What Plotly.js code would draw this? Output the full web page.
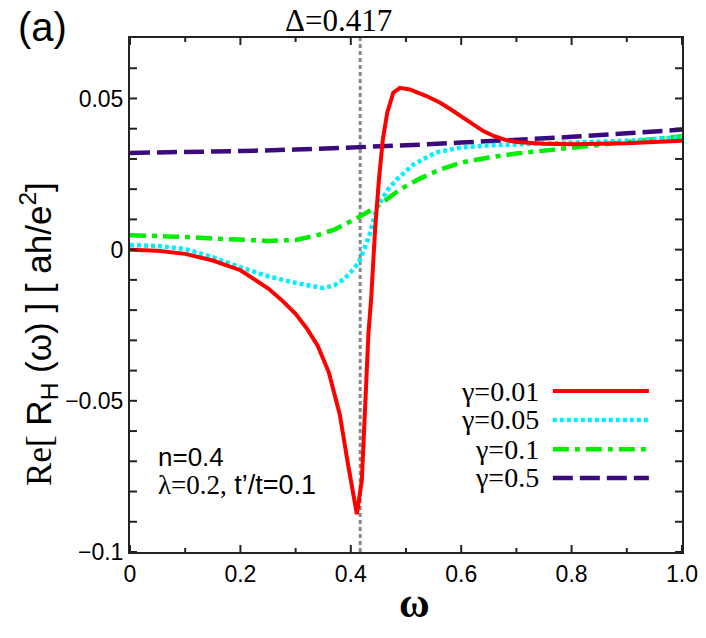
<!DOCTYPE html>
<html>
<head>
<meta charset="utf-8">
<script src="https://cdn.plot.ly/plotly-3.0.1.min.js"></script>
<style>
  html, body { margin: 0; padding: 0; background: #fff; }
  #chart { width: 706px; height: 638px; }
</style>
</head>
<body>
<div id="chart"></div>
<script>
// 数据：Re[R_H(ω)] 对不同 γ
const omega001 = [0, 0.05, 0.1, 0.15, 0.2, 0.225, 0.25, 0.275, 0.3, 0.32, 0.34, 0.36, 0.38, 0.395, 0.405, 0.411, 0.420, 0.426, 0.432, 0.437, 0.444, 0.451, 0.458, 0.466, 0.477, 0.489, 0.507, 0.537, 0.562, 0.58, 0.6, 0.62, 0.64, 0.66, 0.68, 0.70, 0.75, 0.8, 0.9, 1.0];
const re001 = [0, -0.0004, -0.0014, -0.0036, -0.0068, -0.0097, -0.0128, -0.0167, -0.0212, -0.0260, -0.0318, -0.0405, -0.0545, -0.0710, -0.0825, -0.0875, -0.0762, -0.0497, -0.0276, -0.0160, 0.0066, 0.0232, 0.0364, 0.0453, 0.0519, 0.0535, 0.0530, 0.0508, 0.0486, 0.0465, 0.0440, 0.0414, 0.0392, 0.0375, 0.0363, 0.0356, 0.0350, 0.0349, 0.0352, 0.0360];

const omega005 = [0, 0.05, 0.1, 0.15, 0.2, 0.25, 0.3, 0.33, 0.35, 0.37, 0.387, 0.4, 0.414, 0.425, 0.435, 0.448, 0.468, 0.483, 0.513, 0.555, 0.6, 0.65, 0.7, 0.8, 0.9, 1.0];
const re005 = [0.0015, 0.0012, 0.0002, -0.0025, -0.0058, -0.0088, -0.0110, -0.0122, -0.0127, -0.0118, -0.0099, -0.0075, -0.0044, 0.0005, 0.0055, 0.0143, 0.0200, 0.0232, 0.0281, 0.0322, 0.0338, 0.0345, 0.0348, 0.0352, 0.0360, 0.0372];

const omega01 = [0, 0.05, 0.1, 0.15, 0.2, 0.25, 0.3, 0.34, 0.37, 0.4, 0.417, 0.448, 0.489, 0.525, 0.562, 0.6, 0.65, 0.7, 0.8, 0.9, 1.0];
const re01 = [0.0048, 0.0046, 0.0042, 0.0037, 0.0032, 0.0029, 0.0032, 0.0048, 0.0066, 0.0093, 0.0110, 0.0143, 0.0199, 0.0235, 0.0265, 0.0288, 0.0305, 0.0318, 0.0338, 0.0356, 0.0375];

const omega05 = [0, 0.1, 0.2, 0.3, 0.4, 0.5, 0.6, 0.7, 0.8, 0.9, 1.0];
const re05 = [0.0320, 0.0322, 0.0326, 0.0331, 0.0337, 0.0345, 0.0354, 0.0363, 0.0373, 0.0385, 0.0397];

const gammaLabels = ['γ=0.01', 'γ=0.05', 'γ=0.1', 'γ=0.5'];
const DELTA = 0.417;

// 刻度
const xTickVals = [0, 0.2, 0.4, 0.6, 0.8, 1.0];
const xTickText = ['0', '0.2', '0.4', '0.6', '0.8', '1.0'];
const xMinorVals = [0.1, 0.3, 0.5, 0.7, 0.9];
const yTickVals = [-0.1, -0.05, 0, 0.05];
const yTickText = ['\u22120.1', '\u22120.05', '0', '0.05'];
const yMinorVals = [-0.09, -0.08, -0.07, -0.06, -0.04, -0.03, -0.02, -0.01, 0.01, 0.02, 0.03, 0.04, 0.06];

// 样式
const styles = [
    { color: '#ff0000', dash: 'solid', width: 4 },
    { color: '#00f0ff', dash: '4px,3px', width: 4.5 },
    { color: '#00ee00', dash: '16px,6px,5px,6px', width: 4.5 },
    { color: '#3d0a7e', dash: '20px,7px', width: 4.5 }
];
const series = [
    { x: omega001, y: re001 },
    { x: omega005, y: re005 },
    { x: omega01, y: re01 },
    { x: omega05, y: re05 }
];

// 紫色先画，红色在最上
const traces = [3, 2, 1, 0].map(i => ({
    type: 'scatter',
    mode: 'lines',
    x: series[i].x,
    y: series[i].y,
    name: gammaLabels[i],
    line: { color: styles[i].color, dash: styles[i].dash, width: styles[i].width },
    showlegend: false,
    hoverinfo: 'skip'
}));

const sans = "'Liberation Sans', Arial, sans-serif";
const serif = "'Liberation Serif', 'Times New Roman', serif";

const annotations = [];
const shapes = [];

// 内向刻度（四边），位置取自坐标轴
const tickLine = { color: '#222', width: 2 };
function xTick(v, len) {
    shapes.push({ type: 'line', xref: 'x', yref: 'paper', ysizemode: 'pixel', yanchor: 0,
                  x0: v, x1: v, y0: 0, y1: len, line: tickLine });
    shapes.push({ type: 'line', xref: 'x', yref: 'paper', ysizemode: 'pixel', yanchor: 1,
                  x0: v, x1: v, y0: 0, y1: -len, line: tickLine });
}
function yTick(v, len) {
    shapes.push({ type: 'line', xref: 'paper', yref: 'y', xsizemode: 'pixel', xanchor: 0,
                  x0: 0, x1: len, y0: v, y1: v, line: tickLine });
    shapes.push({ type: 'line', xref: 'paper', yref: 'y', xsizemode: 'pixel', xanchor: 1,
                  x0: 0, x1: -len, y0: v, y1: v, line: tickLine });
}
xTickVals.forEach(v => xTick(v, 7));
xMinorVals.forEach(v => xTick(v, 4));
yTickVals.forEach(v => yTick(v, 7));
yMinorVals.forEach(v => yTick(v, 7));

// 自制图例（文字在左，线在右）
const legendRowsY = [0.313, 0.257, 0.200, 0.144];
gammaLabels.forEach((lab, i) => {
    annotations.push({
        xref: 'paper', yref: 'paper', x: 0.745, y: legendRowsY[i],
        xanchor: 'right', yanchor: 'middle', showarrow: false,
        text: lab, font: { family: serif, size: 28, color: '#000' }
    });
    shapes.push({
        type: 'line', xref: 'paper', yref: 'paper',
        x0: 0.766, x1: 0.940, y0: legendRowsY[i], y1: legendRowsY[i],
        line: { color: styles[i].color, dash: styles[i].dash, width: styles[i].width }
    });
});

// Δ 竖线
shapes.push({
    type: 'line', xref: 'x', yref: 'paper', x0: DELTA, x1: DELTA, y0: 0, y1: 1,
    layer: 'below',
    line: { color: '#888888', dash: '4px,3px', width: 3 }
});

annotations.push(
    { xref: 'paper', yref: 'paper', x: 0.377, y: 1.035, xanchor: 'center', yanchor: 'middle',
      showarrow: false, text: 'Δ=0.417', font: { family: serif, size: 31, color: '#000' } },
    { xref: 'paper', yref: 'paper', x: -0.158, y: 1.021, xanchor: 'center', yanchor: 'middle',
      showarrow: false, text: '(a)', font: { family: sans, size: 40, color: '#000' } },
    { xref: 'paper', yref: 'paper', x: 0.047, y: 0.185, xanchor: 'left', yanchor: 'middle',
      showarrow: false, text: 'n=0.4', font: { family: sans, size: 26, color: '#000' } },
    { xref: 'paper', yref: 'paper', x: 0.047, y: 0.130, xanchor: 'left', yanchor: 'middle',
      showarrow: false,
      text: '<span style="font-family:\'Liberation Serif\'">λ=0.2,</span> t’/t=0.1',
      font: { family: sans, size: 27, color: '#000' } },
    { xref: 'paper', yref: 'paper', x: -0.166, y: 0.425, xanchor: 'center', yanchor: 'middle',
      showarrow: false, textangle: -90,
      text: '<span style="font-family:\'Liberation Serif\'">Re[</span> R<sub>H</sub> (ω) ] [ ah/e<sup>2</sup>]',
      font: { family: sans, size: 35, color: '#000' } },
    { xref: 'paper', yref: 'paper', x: 0.516, y: -0.100, xanchor: 'center', yanchor: 'middle',
      showarrow: false, text: '<b>ω</b>', font: { family: serif, size: 42, color: '#000' } }
);

const axisCommon = {
    showgrid: false,
    zeroline: false,
    showline: true,
    linecolor: '#222',
    linewidth: 2,
    mirror: true,
    ticks: '',
    tickmode: 'array',
    tickfont: { family: sans, size: 23, color: '#000' }
};

const layout = {
    width: 706,
    height: 638,
    margin: { l: 130, r: 24, t: 38, b: 86 },
    paper_bgcolor: '#fff',
    plot_bgcolor: '#fff',
    showlegend: false,
    xaxis: Object.assign({}, axisCommon, {
        range: [0, 1],
        tickvals: xTickVals,
        ticktext: xTickText
    }),
    yaxis: Object.assign({}, axisCommon, {
        range: [-0.1, 0.07],
        tickvals: yTickVals,
        ticktext: yTickText
    }),
    shapes: shapes,
    annotations: annotations
};

Plotly.newPlot('chart', traces, layout, { displayModeBar: false, staticPlot: true });
</script>
</body>
</html>
